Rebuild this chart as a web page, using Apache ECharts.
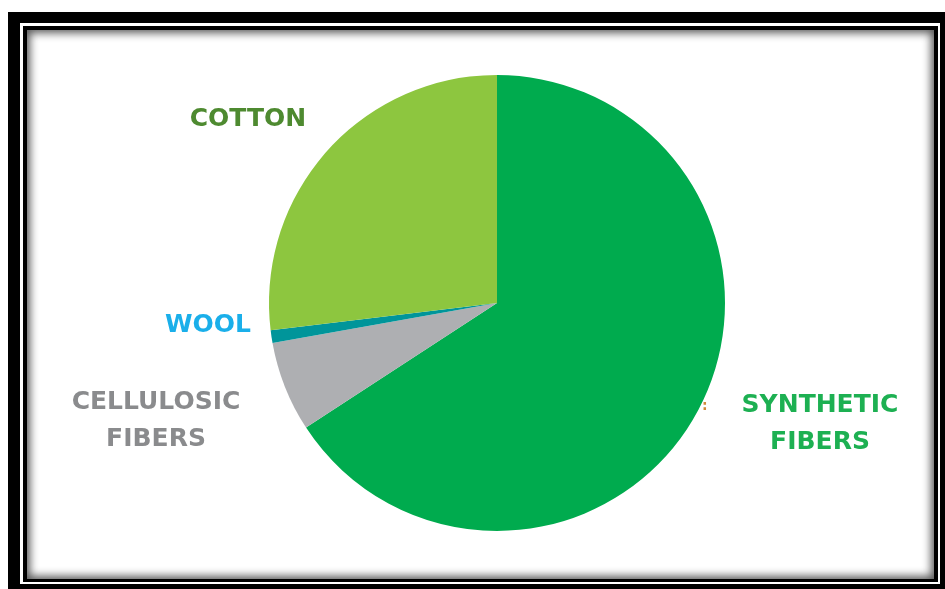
<!DOCTYPE html>
<html>
<head>
<meta charset="utf-8">
<script src="https://cdn.jsdelivr.net/npm/echarts@6/dist/echarts.min.js"></script>
<style>
  html, body { margin:0; padding:0; width:945px; height:589px; overflow:hidden; background:#fff; }
  .f { position:absolute; }
  #f1 { left:8px; top:12px; width:950px; height:590px; background:#000; }
  #f2 { left:20px; top:23px; width:920px; height:561px; background:#fff; }
  #f3 { left:23px; top:26px; width:915px; height:556px; background:#000; }
  #f4 { left:27px; top:30px; width:907px; height:549px; background:#fff; box-shadow: inset 0 0 9px 3px rgba(0,0,0,0.65); }
  #chart { position:absolute; left:0; top:0; width:945px; height:589px; z-index:5; }
</style>
</head>
<body>
<div class="f" id="f1"></div>
<div class="f" id="f2"></div>
<div class="f" id="f3"></div>
<div class="f" id="f4"></div>
<div id="chart"></div>
<script>
// Data (percent share), clockwise from 12 o'clock
const categories = ['SYNTHETIC\nFIBERS', 'CELLULOSIC\nFIBERS', 'WOOL', 'COTTON'];
const values = [65.8, 6.4, 0.9, 26.9];

// Styles
const sliceColors = ['#00AB4E', '#AEAFB2', '#00959A', '#8DC63F'];
const labelColors = ['#1DB052', '#8A8B8D', '#1AAFEA', '#4E8A30'];
const labelPos = [[820, 423.5], [156, 420.5], [208, 325], [248, 119]];

const chart = echarts.init(document.getElementById('chart'), null, { renderer: 'canvas' });
chart.setOption({
  backgroundColor: 'transparent',
  animation: false,
  series: [{
    type: 'pie',
    center: [497, 303],
    radius: [0, 228],
    startAngle: 90,
    clockwise: true,
    silent: true,
    label: {
      show: true,
      position: 'outside',
      fontFamily: 'DejaVu Sans',
      fontWeight: 'bold',
      fontSize: 25,
      lineHeight: 37,
      align: 'center'
    },
    labelLine: { show: false },
    labelLayout: function (params) {
      const p = labelPos[params.dataIndex];
      return { x: p[0], y: p[1], align: 'center', verticalAlign: 'middle' };
    },
    data: categories.map((c, i) => ({
      name: c,
      value: values[i],
      itemStyle: { color: sliceColors[i] },
      label: { color: labelColors[i] }
    }))
  }],
  graphic: [{
    type: 'text',
    left: 702,
    top: 399,
    style: { text: ':', fill: '#D08A3A', font: 'bold 14px "DejaVu Sans"' }
  }]
});
</script>
</body>
</html>
